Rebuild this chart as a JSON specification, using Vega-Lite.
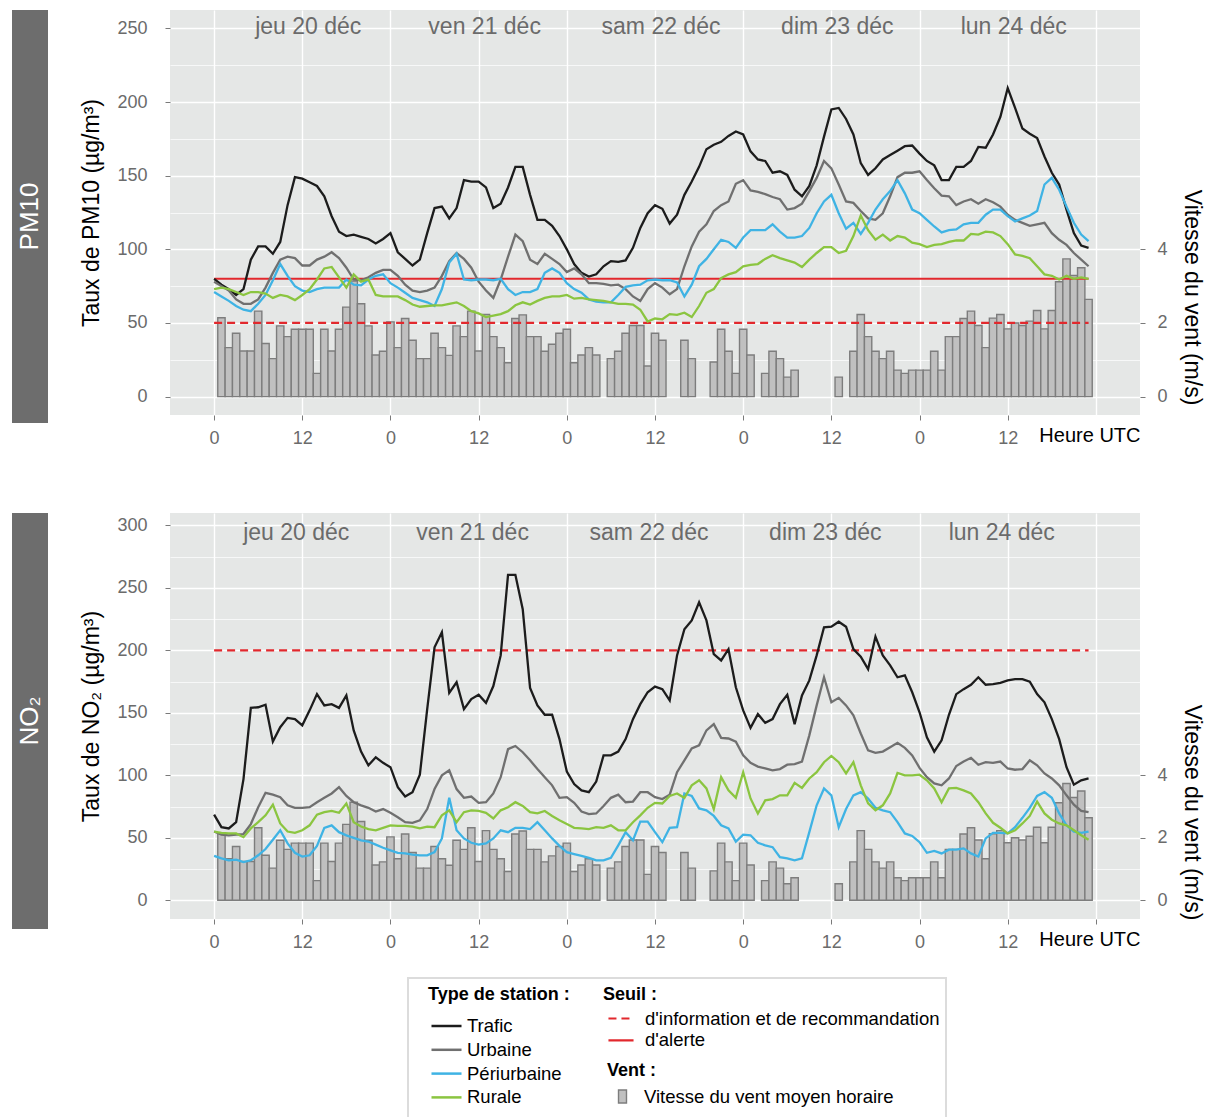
{
  "$schema": "https://vega.github.io/schema/vega-lite/v6.json",
  "padding": {"left": 12, "top": 10, "right": 5, "bottom": 5},
  "config": {
    "font": "Liberation Sans",
    "view": {"stroke": null},
    "scale": {"continuousPadding": 0},
    "axis": {"domain": false, "labelFont": "Liberation Sans", "titleFont": "Liberation Sans", "labelColor": "#6b6b6b", "labelFontSize": 18, "tickColor": "#7a7a7a", "tickSize": 5, "titleColor": "#000000", "titleFontWeight": "normal", "titleFontSize": 23, "labelOverlap": false, "labelFlush": false},
    "legend": {"labelFont": "Liberation Sans", "titleFont": "Liberation Sans", "labelFontSize": 18.5, "titleFontSize": 18, "titleFontWeight": "bold", "labelColor": "#000000", "titleColor": "#000000", "orient": "none", "padding": 0, "direction": "vertical", "labelLimit": 400, "symbolSize": 361}
  },
  "datasets": {
    "pm10": [
      {"h":0,"Trafic":80,"Urbaine":78,"Périurbaine":71,"Rurale":73},
      {"h":1,"Trafic":76,"Urbaine":75,"Périurbaine":68,"Rurale":74},
      {"h":2,"Trafic":73,"Urbaine":72,"Périurbaine":65,"Rurale":73},
      {"h":3,"Trafic":69,"Urbaine":66,"Périurbaine":61.5,"Rurale":71},
      {"h":4,"Trafic":73,"Urbaine":63,"Périurbaine":59,"Rurale":69},
      {"h":5,"Trafic":93,"Urbaine":63,"Périurbaine":58,"Rurale":71},
      {"h":6,"Trafic":102,"Urbaine":66,"Périurbaine":63,"Rurale":71},
      {"h":7,"Trafic":102,"Urbaine":74,"Périurbaine":69,"Rurale":70},
      {"h":8,"Trafic":97,"Urbaine":84,"Périurbaine":79,"Rurale":67},
      {"h":9,"Trafic":105,"Urbaine":93,"Périurbaine":90,"Rurale":69},
      {"h":10,"Trafic":130,"Urbaine":95,"Périurbaine":82,"Rurale":68},
      {"h":11,"Trafic":149,"Urbaine":94,"Périurbaine":75,"Rurale":65.5},
      {"h":12,"Trafic":148,"Urbaine":89,"Périurbaine":72,"Rurale":69},
      {"h":13,"Trafic":145.5,"Urbaine":89,"Périurbaine":71,"Rurale":73},
      {"h":14,"Trafic":143,"Urbaine":93,"Périurbaine":73,"Rurale":79.5},
      {"h":15,"Trafic":136,"Urbaine":95,"Périurbaine":74,"Rurale":87},
      {"h":16,"Trafic":122.5,"Urbaine":98,"Périurbaine":74,"Rurale":88},
      {"h":17,"Trafic":112,"Urbaine":94,"Périurbaine":74,"Rurale":81},
      {"h":18,"Trafic":109,"Urbaine":87.5,"Périurbaine":79.5,"Rurale":74},
      {"h":19,"Trafic":110,"Urbaine":79.5,"Périurbaine":76,"Rurale":83},
      {"h":20,"Trafic":108.5,"Urbaine":79,"Périurbaine":75.5,"Rurale":78},
      {"h":21,"Trafic":107,"Urbaine":81,"Périurbaine":79.5,"Rurale":79.5},
      {"h":22,"Trafic":104,"Urbaine":84,"Périurbaine":82,"Rurale":69},
      {"h":23,"Trafic":107,"Urbaine":86,"Périurbaine":83,"Rurale":68},
      {"h":24,"Trafic":111,"Urbaine":86,"Périurbaine":77,"Rurale":68},
      {"h":25,"Trafic":98,"Urbaine":82,"Périurbaine":74,"Rurale":68},
      {"h":26,"Trafic":93.5,"Urbaine":76,"Périurbaine":70.5,"Rurale":65.5},
      {"h":27,"Trafic":89,"Urbaine":72,"Périurbaine":67,"Rurale":62.5},
      {"h":28,"Trafic":93,"Urbaine":71,"Périurbaine":65.5,"Rurale":61},
      {"h":29,"Trafic":111,"Urbaine":72,"Périurbaine":64,"Rurale":61.5},
      {"h":30,"Trafic":128,"Urbaine":74,"Périurbaine":61.5,"Rurale":62},
      {"h":31,"Trafic":129,"Urbaine":82,"Périurbaine":73,"Rurale":62},
      {"h":32,"Trafic":121,"Urbaine":92,"Périurbaine":91,"Rurale":63},
      {"h":33,"Trafic":128,"Urbaine":97.5,"Périurbaine":97,"Rurale":64},
      {"h":34,"Trafic":147,"Urbaine":93.5,"Périurbaine":79.5,"Rurale":61.5},
      {"h":35,"Trafic":146,"Urbaine":87.5,"Périurbaine":79,"Rurale":58},
      {"h":36,"Trafic":146,"Urbaine":78,"Périurbaine":79.5,"Rurale":56.5},
      {"h":37,"Trafic":142,"Urbaine":72,"Périurbaine":79.5,"Rurale":54},
      {"h":38,"Trafic":128,"Urbaine":67,"Périurbaine":79,"Rurale":55},
      {"h":39,"Trafic":131,"Urbaine":79.5,"Périurbaine":80,"Rurale":56},
      {"h":40,"Trafic":142,"Urbaine":95,"Périurbaine":73,"Rurale":58},
      {"h":41,"Trafic":156,"Urbaine":110,"Périurbaine":69,"Rurale":62},
      {"h":42,"Trafic":156,"Urbaine":105.5,"Périurbaine":71,"Rurale":64},
      {"h":43,"Trafic":137,"Urbaine":93,"Périurbaine":71,"Rurale":62.5},
      {"h":44,"Trafic":120,"Urbaine":90,"Périurbaine":73,"Rurale":65},
      {"h":45,"Trafic":120,"Urbaine":97,"Périurbaine":84,"Rurale":67},
      {"h":46,"Trafic":116,"Urbaine":93.5,"Périurbaine":87,"Rurale":68},
      {"h":47,"Trafic":109,"Urbaine":90,"Périurbaine":84,"Rurale":68},
      {"h":48,"Trafic":100,"Urbaine":84.5,"Périurbaine":77,"Rurale":69},
      {"h":49,"Trafic":90,"Urbaine":87,"Périurbaine":73,"Rurale":66.5},
      {"h":50,"Trafic":84,"Urbaine":83,"Périurbaine":70.5,"Rurale":67},
      {"h":51,"Trafic":81.5,"Urbaine":77,"Périurbaine":66,"Rurale":66},
      {"h":52,"Trafic":83,"Urbaine":77,"Périurbaine":64.5,"Rurale":65.5},
      {"h":53,"Trafic":88.5,"Urbaine":76.5,"Périurbaine":64,"Rurale":65},
      {"h":54,"Trafic":92,"Urbaine":75.5,"Périurbaine":64,"Rurale":64},
      {"h":55,"Trafic":91.5,"Urbaine":76,"Périurbaine":69,"Rurale":63},
      {"h":56,"Trafic":92.5,"Urbaine":73,"Périurbaine":74.5,"Rurale":63},
      {"h":57,"Trafic":101,"Urbaine":68,"Périurbaine":75.5,"Rurale":62.5},
      {"h":58,"Trafic":114.5,"Urbaine":65,"Périurbaine":76,"Rurale":59},
      {"h":59,"Trafic":124.5,"Urbaine":73,"Périurbaine":79,"Rurale":51},
      {"h":60,"Trafic":130,"Urbaine":77,"Périurbaine":79.5,"Rurale":53},
      {"h":61,"Trafic":127.5,"Urbaine":74,"Périurbaine":79,"Rurale":52.5},
      {"h":62,"Trafic":117.5,"Urbaine":69.5,"Périurbaine":79,"Rurale":56},
      {"h":63,"Trafic":123.5,"Urbaine":73,"Périurbaine":77.5,"Rurale":55.5},
      {"h":64,"Trafic":137,"Urbaine":88.5,"Périurbaine":68,"Rurale":57},
      {"h":65,"Trafic":146,"Urbaine":102,"Périurbaine":76,"Rurale":54},
      {"h":66,"Trafic":156,"Urbaine":112,"Périurbaine":88.5,"Rurale":61.5},
      {"h":67,"Trafic":168,"Urbaine":117,"Périurbaine":93.5,"Rurale":70.5},
      {"h":68,"Trafic":171,"Urbaine":126,"Périurbaine":100,"Rurale":73},
      {"h":69,"Trafic":173,"Urbaine":130,"Périurbaine":106.5,"Rurale":80.5},
      {"h":70,"Trafic":177,"Urbaine":132.5,"Périurbaine":105,"Rurale":83},
      {"h":71,"Trafic":180,"Urbaine":144.5,"Périurbaine":101,"Rurale":84.5},
      {"h":72,"Trafic":178,"Urbaine":147,"Périurbaine":108,"Rurale":88.5},
      {"h":73,"Trafic":166.5,"Urbaine":140,"Périurbaine":113,"Rurale":89.5},
      {"h":74,"Trafic":161,"Urbaine":139,"Périurbaine":113,"Rurale":90},
      {"h":75,"Trafic":160,"Urbaine":137.5,"Périurbaine":113,"Rurale":93.5},
      {"h":76,"Trafic":152,"Urbaine":135.5,"Périurbaine":117,"Rurale":96},
      {"h":77,"Trafic":153,"Urbaine":134,"Périurbaine":112,"Rurale":94},
      {"h":78,"Trafic":150.5,"Urbaine":127,"Périurbaine":108,"Rurale":92.5},
      {"h":79,"Trafic":140.5,"Urbaine":128,"Périurbaine":108,"Rurale":91},
      {"h":80,"Trafic":136,"Urbaine":131,"Périurbaine":109,"Rurale":88},
      {"h":81,"Trafic":143,"Urbaine":139.5,"Périurbaine":114.5,"Rurale":93},
      {"h":82,"Trafic":157,"Urbaine":148.5,"Périurbaine":124.5,"Rurale":97.5},
      {"h":83,"Trafic":176.5,"Urbaine":160,"Périurbaine":132.5,"Rurale":101.5},
      {"h":84,"Trafic":195,"Urbaine":155,"Périurbaine":137,"Rurale":101.5},
      {"h":85,"Trafic":196,"Urbaine":144,"Périurbaine":124.5,"Rurale":97.5},
      {"h":86,"Trafic":188.5,"Urbaine":132.5,"Périurbaine":114,"Rurale":99},
      {"h":87,"Trafic":178,"Urbaine":131.5,"Périurbaine":118,"Rurale":109},
      {"h":88,"Trafic":158.5,"Urbaine":126,"Périurbaine":110.5,"Rurale":123},
      {"h":89,"Trafic":150.5,"Urbaine":121,"Périurbaine":118,"Rurale":113},
      {"h":90,"Trafic":155,"Urbaine":120,"Périurbaine":127,"Rurale":106.5},
      {"h":91,"Trafic":161,"Urbaine":124.5,"Périurbaine":134,"Rurale":110},
      {"h":92,"Trafic":164,"Urbaine":136,"Périurbaine":139.5,"Rurale":106},
      {"h":93,"Trafic":167,"Urbaine":149,"Périurbaine":147,"Rurale":109},
      {"h":94,"Trafic":170,"Urbaine":152,"Périurbaine":138,"Rurale":108},
      {"h":95,"Trafic":170.5,"Urbaine":152,"Périurbaine":127,"Rurale":104.5},
      {"h":96,"Trafic":165,"Urbaine":153,"Périurbaine":124.5,"Rurale":103.5},
      {"h":97,"Trafic":160,"Urbaine":147,"Périurbaine":120,"Rurale":101.5},
      {"h":98,"Trafic":157,"Urbaine":141.5,"Périurbaine":115.5,"Rurale":103},
      {"h":99,"Trafic":147,"Urbaine":136.5,"Périurbaine":111.5,"Rurale":103.5},
      {"h":100,"Trafic":147,"Urbaine":136,"Périurbaine":113,"Rurale":105},
      {"h":101,"Trafic":156,"Urbaine":130,"Périurbaine":113.5,"Rurale":106},
      {"h":102,"Trafic":156,"Urbaine":132.5,"Périurbaine":117,"Rurale":106},
      {"h":103,"Trafic":160,"Urbaine":134,"Périurbaine":118,"Rurale":110.5},
      {"h":104,"Trafic":169.5,"Urbaine":131,"Périurbaine":118,"Rurale":110},
      {"h":105,"Trafic":169,"Urbaine":134,"Périurbaine":123.5,"Rurale":112},
      {"h":106,"Trafic":178,"Urbaine":132,"Périurbaine":127,"Rurale":111.5},
      {"h":107,"Trafic":190,"Urbaine":129,"Périurbaine":127,"Rurale":109},
      {"h":108,"Trafic":209.5,"Urbaine":123.5,"Périurbaine":122.5,"Rurale":103.5},
      {"h":109,"Trafic":196,"Urbaine":120,"Périurbaine":119,"Rurale":96.5},
      {"h":110,"Trafic":182,"Urbaine":118,"Périurbaine":121,"Rurale":95.5},
      {"h":111,"Trafic":178.5,"Urbaine":116,"Périurbaine":123,"Rurale":94},
      {"h":112,"Trafic":175.5,"Urbaine":117,"Périurbaine":126,"Rurale":88.5},
      {"h":113,"Trafic":163,"Urbaine":118,"Périurbaine":144,"Rurale":83},
      {"h":114,"Trafic":152,"Urbaine":111,"Périurbaine":148.5,"Rurale":82},
      {"h":115,"Trafic":144,"Urbaine":106.5,"Périurbaine":140.5,"Rurale":79.5},
      {"h":116,"Trafic":127,"Urbaine":103,"Périurbaine":129,"Rurale":82},
      {"h":117,"Trafic":111,"Urbaine":97.5,"Périurbaine":118,"Rurale":80},
      {"h":118,"Trafic":102.5,"Urbaine":93,"Périurbaine":110,"Rurale":81},
      {"h":119,"Trafic":101,"Urbaine":88.5,"Périurbaine":105.5,"Rurale":80}
    ],
    "no2": [
      {"h":0,"Trafic":68.5,"Urbaine":55,"Périurbaine":35.5,"Rurale":55},
      {"h":1,"Trafic":58.5,"Urbaine":52.5,"Périurbaine":33.5,"Rurale":54},
      {"h":2,"Trafic":57.5,"Urbaine":52,"Périurbaine":32,"Rurale":53.5},
      {"h":3,"Trafic":62.5,"Urbaine":52.5,"Périurbaine":32.5,"Rurale":53.5},
      {"h":4,"Trafic":97,"Urbaine":53,"Périurbaine":30.5,"Rurale":50.5},
      {"h":5,"Trafic":154,"Urbaine":61,"Périurbaine":32,"Rurale":57.5},
      {"h":6,"Trafic":154.5,"Urbaine":74.5,"Périurbaine":36,"Rurale":62.5},
      {"h":7,"Trafic":156.5,"Urbaine":86,"Périurbaine":41,"Rurale":68},
      {"h":8,"Trafic":127,"Urbaine":84.5,"Périurbaine":48.5,"Rurale":76.5},
      {"h":9,"Trafic":138.5,"Urbaine":82.5,"Périurbaine":56,"Rurale":61.5},
      {"h":10,"Trafic":146,"Urbaine":76,"Périurbaine":45.5,"Rurale":55},
      {"h":11,"Trafic":145,"Urbaine":74,"Périurbaine":38,"Rurale":54},
      {"h":12,"Trafic":140,"Urbaine":74,"Périurbaine":35,"Rurale":56},
      {"h":13,"Trafic":152,"Urbaine":74.5,"Périurbaine":36,"Rurale":60},
      {"h":14,"Trafic":165,"Urbaine":78.5,"Périurbaine":43.5,"Rurale":68.5},
      {"h":15,"Trafic":156,"Urbaine":82,"Périurbaine":58,"Rurale":70.5},
      {"h":16,"Trafic":157,"Urbaine":85.5,"Périurbaine":60,"Rurale":71.5},
      {"h":17,"Trafic":154,"Urbaine":90.5,"Périurbaine":54.5,"Rurale":70},
      {"h":18,"Trafic":164,"Urbaine":83.5,"Périurbaine":52,"Rurale":77.5},
      {"h":19,"Trafic":136,"Urbaine":78.5,"Périurbaine":50,"Rurale":62.5},
      {"h":20,"Trafic":119,"Urbaine":76,"Périurbaine":48,"Rurale":59},
      {"h":21,"Trafic":108,"Urbaine":74,"Périurbaine":47,"Rurale":57},
      {"h":22,"Trafic":114.5,"Urbaine":71,"Périurbaine":44.5,"Rurale":56},
      {"h":23,"Trafic":110,"Urbaine":73,"Périurbaine":42,"Rurale":58},
      {"h":24,"Trafic":106.5,"Urbaine":70,"Périurbaine":40,"Rurale":60},
      {"h":25,"Trafic":90.5,"Urbaine":66.5,"Périurbaine":38,"Rurale":59.5},
      {"h":26,"Trafic":83,"Urbaine":62.5,"Périurbaine":37.5,"Rurale":59.5},
      {"h":27,"Trafic":86.5,"Urbaine":62,"Périurbaine":36.5,"Rurale":59},
      {"h":28,"Trafic":100.5,"Urbaine":64,"Périurbaine":36,"Rurale":57.5},
      {"h":29,"Trafic":153,"Urbaine":73,"Périurbaine":36,"Rurale":59},
      {"h":30,"Trafic":202.5,"Urbaine":89,"Périurbaine":38.5,"Rurale":58.5},
      {"h":31,"Trafic":214.5,"Urbaine":100,"Périurbaine":49.5,"Rurale":68},
      {"h":32,"Trafic":166,"Urbaine":104,"Périurbaine":82,"Rurale":72},
      {"h":33,"Trafic":174.5,"Urbaine":89,"Périurbaine":56,"Rurale":62.5},
      {"h":34,"Trafic":153,"Urbaine":82,"Périurbaine":49.5,"Rurale":70.5},
      {"h":35,"Trafic":161,"Urbaine":83,"Périurbaine":46,"Rurale":72},
      {"h":36,"Trafic":164.5,"Urbaine":78,"Périurbaine":44.5,"Rurale":71.5},
      {"h":37,"Trafic":158,"Urbaine":78.5,"Périurbaine":45.5,"Rurale":70},
      {"h":38,"Trafic":171.5,"Urbaine":85.5,"Périurbaine":49.5,"Rurale":65.5},
      {"h":39,"Trafic":196,"Urbaine":98.5,"Périurbaine":56,"Rurale":72},
      {"h":40,"Trafic":260.5,"Urbaine":121,"Périurbaine":54.5,"Rurale":74.5},
      {"h":41,"Trafic":260.5,"Urbaine":123.5,"Périurbaine":58,"Rurale":78.5},
      {"h":42,"Trafic":233,"Urbaine":118.5,"Périurbaine":58,"Rurale":75.5},
      {"h":43,"Trafic":170,"Urbaine":112,"Périurbaine":57,"Rurale":70.5},
      {"h":44,"Trafic":156,"Urbaine":105,"Périurbaine":62.5,"Rurale":69.5},
      {"h":45,"Trafic":148.5,"Urbaine":98.5,"Périurbaine":56,"Rurale":71.5},
      {"h":46,"Trafic":148.5,"Urbaine":92,"Périurbaine":49.5,"Rurale":67.5},
      {"h":47,"Trafic":129,"Urbaine":82,"Périurbaine":43.5,"Rurale":64},
      {"h":48,"Trafic":103,"Urbaine":82.5,"Périurbaine":38.5,"Rurale":61},
      {"h":49,"Trafic":93,"Urbaine":78,"Périurbaine":37,"Rurale":58},
      {"h":50,"Trafic":88,"Urbaine":71,"Périurbaine":35.5,"Rurale":57.5},
      {"h":51,"Trafic":86.5,"Urbaine":69,"Périurbaine":34,"Rurale":57},
      {"h":52,"Trafic":95,"Urbaine":69.5,"Périurbaine":32,"Rurale":58.5},
      {"h":53,"Trafic":116,"Urbaine":75.5,"Périurbaine":32,"Rurale":58},
      {"h":54,"Trafic":116,"Urbaine":82,"Périurbaine":34,"Rurale":60},
      {"h":55,"Trafic":119,"Urbaine":84.5,"Périurbaine":44,"Rurale":56},
      {"h":56,"Trafic":129,"Urbaine":78.5,"Périurbaine":54.5,"Rurale":56},
      {"h":57,"Trafic":145,"Urbaine":79,"Périurbaine":48,"Rurale":62.5},
      {"h":58,"Trafic":157,"Urbaine":86.5,"Périurbaine":63,"Rurale":68},
      {"h":59,"Trafic":166.5,"Urbaine":86.5,"Périurbaine":63,"Rurale":74},
      {"h":60,"Trafic":171,"Urbaine":82.5,"Périurbaine":54.5,"Rurale":78},
      {"h":61,"Trafic":169,"Urbaine":81,"Périurbaine":46.5,"Rurale":77.5},
      {"h":62,"Trafic":160,"Urbaine":84.5,"Périurbaine":58,"Rurale":83.5},
      {"h":63,"Trafic":196,"Urbaine":102.5,"Périurbaine":58.5,"Rurale":85.5},
      {"h":64,"Trafic":217,"Urbaine":112,"Périurbaine":85.5,"Rurale":82},
      {"h":65,"Trafic":224,"Urbaine":121.5,"Périurbaine":83.5,"Rurale":92},
      {"h":66,"Trafic":238.5,"Urbaine":124,"Périurbaine":73.5,"Rurale":96},
      {"h":67,"Trafic":224,"Urbaine":136,"Périurbaine":72,"Rurale":89.5},
      {"h":68,"Trafic":197,"Urbaine":141,"Périurbaine":67.5,"Rurale":73},
      {"h":69,"Trafic":192,"Urbaine":130,"Périurbaine":60,"Rurale":98.5},
      {"h":70,"Trafic":201,"Urbaine":129.5,"Périurbaine":57.5,"Rurale":88},
      {"h":71,"Trafic":170.5,"Urbaine":127,"Périurbaine":47,"Rurale":82},
      {"h":72,"Trafic":152,"Urbaine":116,"Périurbaine":52.5,"Rurale":102.5},
      {"h":73,"Trafic":138,"Urbaine":110,"Périurbaine":52,"Rurale":81.5},
      {"h":74,"Trafic":149,"Urbaine":107,"Périurbaine":46,"Rurale":69.5},
      {"h":75,"Trafic":142,"Urbaine":105.5,"Périurbaine":44,"Rurale":80},
      {"h":76,"Trafic":145,"Urbaine":104,"Périurbaine":42.5,"Rurale":81},
      {"h":77,"Trafic":157,"Urbaine":105,"Périurbaine":34.5,"Rurale":84},
      {"h":78,"Trafic":164.5,"Urbaine":108.5,"Périurbaine":33.5,"Rurale":84},
      {"h":79,"Trafic":141,"Urbaine":109,"Périurbaine":32,"Rurale":94},
      {"h":80,"Trafic":164,"Urbaine":111,"Périurbaine":33.5,"Rurale":90},
      {"h":81,"Trafic":176,"Urbaine":132,"Périurbaine":54.5,"Rurale":97.5},
      {"h":82,"Trafic":196,"Urbaine":156,"Périurbaine":76,"Rurale":102.5},
      {"h":83,"Trafic":218.5,"Urbaine":178.5,"Périurbaine":89.5,"Rurale":110.5},
      {"h":84,"Trafic":219,"Urbaine":158.5,"Périurbaine":84,"Rurale":115.5},
      {"h":85,"Trafic":223,"Urbaine":162,"Périurbaine":58.5,"Rurale":110.5},
      {"h":86,"Trafic":219,"Urbaine":156,"Périurbaine":73,"Rurale":101.5},
      {"h":87,"Trafic":201,"Urbaine":148,"Périurbaine":84,"Rurale":110.5},
      {"h":88,"Trafic":195,"Urbaine":133.5,"Périurbaine":86.5,"Rurale":92},
      {"h":89,"Trafic":185,"Urbaine":120,"Périurbaine":81.5,"Rurale":77.5},
      {"h":90,"Trafic":211,"Urbaine":118,"Périurbaine":74,"Rurale":72},
      {"h":91,"Trafic":196,"Urbaine":119,"Périurbaine":72,"Rurale":76},
      {"h":92,"Trafic":188,"Urbaine":122.5,"Périurbaine":70.5,"Rurale":85.5},
      {"h":93,"Trafic":178.5,"Urbaine":126,"Périurbaine":62.5,"Rurale":102},
      {"h":94,"Trafic":180,"Urbaine":122,"Périurbaine":53.5,"Rurale":100},
      {"h":95,"Trafic":166.5,"Urbaine":116,"Périurbaine":51.5,"Rurale":100},
      {"h":96,"Trafic":150.5,"Urbaine":106,"Périurbaine":46.5,"Rurale":100.5},
      {"h":97,"Trafic":130.5,"Urbaine":98.5,"Périurbaine":38,"Rurale":96},
      {"h":98,"Trafic":119,"Urbaine":93.5,"Périurbaine":39.5,"Rurale":89.5},
      {"h":99,"Trafic":128,"Urbaine":92,"Périurbaine":37.5,"Rurale":78.5},
      {"h":100,"Trafic":148.5,"Urbaine":97.5,"Périurbaine":40.5,"Rurale":89.5},
      {"h":101,"Trafic":165,"Urbaine":107.5,"Périurbaine":40.5,"Rurale":90},
      {"h":102,"Trafic":169,"Urbaine":111,"Périurbaine":41.5,"Rurale":88},
      {"h":103,"Trafic":172.5,"Urbaine":114,"Périurbaine":37.5,"Rurale":85.5},
      {"h":104,"Trafic":178.5,"Urbaine":108.5,"Périurbaine":35,"Rurale":78.5},
      {"h":105,"Trafic":172.5,"Urbaine":110.5,"Périurbaine":49.5,"Rurale":69.5},
      {"h":106,"Trafic":173,"Urbaine":110,"Périurbaine":54,"Rurale":62},
      {"h":107,"Trafic":174,"Urbaine":111,"Périurbaine":54,"Rurale":58},
      {"h":108,"Trafic":176,"Urbaine":105.5,"Périurbaine":53.5,"Rurale":53.5},
      {"h":109,"Trafic":177,"Urbaine":104.5,"Périurbaine":58.5,"Rurale":56},
      {"h":110,"Trafic":177,"Urbaine":105,"Périurbaine":66,"Rurale":61.5},
      {"h":111,"Trafic":175,"Urbaine":112,"Périurbaine":74,"Rurale":67.5},
      {"h":112,"Trafic":165,"Urbaine":108,"Périurbaine":83.5,"Rurale":79},
      {"h":113,"Trafic":158.5,"Urbaine":101.5,"Périurbaine":86.5,"Rurale":69.5},
      {"h":114,"Trafic":145,"Urbaine":97.5,"Périurbaine":82,"Rurale":64.5},
      {"h":115,"Trafic":129,"Urbaine":92,"Périurbaine":69.5,"Rurale":61.5},
      {"h":116,"Trafic":106.5,"Urbaine":84,"Périurbaine":60,"Rurale":60},
      {"h":117,"Trafic":92.5,"Urbaine":76.5,"Périurbaine":55,"Rurale":56},
      {"h":118,"Trafic":96,"Urbaine":71.5,"Périurbaine":54,"Rurale":52},
      {"h":119,"Trafic":97.5,"Urbaine":70.5,"Périurbaine":55,"Rurale":48.5}
    ],
    "vent": [
      {"h":1,"vent":2.14},{"h":2,"vent":1.33},{"h":3,"vent":1.72},{"h":4,"vent":1.24},{"h":5,"vent":1.24},
      {"h":6,"vent":2.32},{"h":7,"vent":1.44},{"h":8,"vent":1.03},{"h":9,"vent":1.92},{"h":10,"vent":1.63},
      {"h":11,"vent":1.83},{"h":12,"vent":1.83},{"h":13,"vent":1.83},{"h":14,"vent":0.63},{"h":15,"vent":1.83},
      {"h":16,"vent":1.24},{"h":17,"vent":1.83},{"h":18,"vent":2.43},{"h":19,"vent":3.14},{"h":20,"vent":2.52},
      {"h":21,"vent":1.92},{"h":22,"vent":1.13},{"h":23,"vent":1.23},{"h":24,"vent":2.03},{"h":25,"vent":1.33},
      {"h":26,"vent":2.12},{"h":27,"vent":1.53},{"h":28,"vent":1.03},{"h":29,"vent":1.03},{"h":30,"vent":1.72},
      {"h":31,"vent":1.33},{"h":32,"vent":1.12},{"h":33,"vent":1.92},{"h":34,"vent":1.63},{"h":35,"vent":2.32},
      {"h":36,"vent":1.24},{"h":37,"vent":2.23},{"h":38,"vent":1.63},{"h":39,"vent":1.33},{"h":40,"vent":0.92},
      {"h":41,"vent":2.12},{"h":42,"vent":2.22},{"h":43,"vent":1.63},{"h":44,"vent":1.63},{"h":45,"vent":1.23},
      {"h":46,"vent":1.42},{"h":47,"vent":1.72},{"h":48,"vent":1.83},{"h":49,"vent":0.92},{"h":50,"vent":1.13},
      {"h":51,"vent":1.33},{"h":52,"vent":1.13},{"h":53,"vent":0},{"h":54,"vent":1.03},{"h":55,"vent":1.23},
      {"h":56,"vent":1.72},{"h":57,"vent":1.93},{"h":58,"vent":1.93},{"h":59,"vent":0.83},{"h":60,"vent":1.72},
      {"h":61,"vent":1.53},{"h":62,"vent":0},{"h":63,"vent":0},{"h":64,"vent":1.53},{"h":65,"vent":1.03},
      {"h":66,"vent":0},{"h":67,"vent":0},{"h":68,"vent":0.94},{"h":69,"vent":1.83},{"h":70,"vent":1.23},
      {"h":71,"vent":0.63},{"h":72,"vent":1.83},{"h":73,"vent":1.13},{"h":74,"vent":0},{"h":75,"vent":0.63},
      {"h":76,"vent":1.23},{"h":77,"vent":1.03},{"h":78,"vent":0.53},{"h":79,"vent":0.72},{"h":80,"vent":0},
      {"h":81,"vent":0},{"h":82,"vent":0},{"h":83,"vent":0},{"h":84,"vent":0},{"h":85,"vent":0.53},
      {"h":86,"vent":0},{"h":87,"vent":1.23},{"h":88,"vent":2.23},{"h":89,"vent":1.63},{"h":90,"vent":1.23},
      {"h":91,"vent":1.03},{"h":92,"vent":1.23},{"h":93,"vent":0.72},{"h":94,"vent":0.63},{"h":95,"vent":0.72},
      {"h":96,"vent":0.72},{"h":97,"vent":0.72},{"h":98,"vent":1.23},{"h":99,"vent":0.72},{"h":100,"vent":1.63},
      {"h":101,"vent":1.63},{"h":102,"vent":2.12},{"h":103,"vent":2.32},{"h":104,"vent":1.93},{"h":105,"vent":1.33},
      {"h":106,"vent":2.13},{"h":107,"vent":2.23},{"h":108,"vent":1.84},{"h":109,"vent":2.0},{"h":110,"vent":1.93},
      {"h":111,"vent":2.05},{"h":112,"vent":2.34},{"h":113,"vent":1.84},{"h":114,"vent":2.34},{"h":115,"vent":3.12},
      {"h":116,"vent":3.74},{"h":117,"vent":3.29},{"h":118,"vent":3.5},{"h":119,"vent":2.64}
    ],
    "seuils": [
      {"polluant":"PM10","seuil":"d'information et de recommandation","valeur":50,"debut":0,"fin":119},
      {"polluant":"PM10","seuil":"d'alerte","valeur":80,"debut":0,"fin":119},
      {"polluant":"NO2","seuil":"d'information et de recommandation","valeur":200,"debut":0,"fin":119}
    ],
    "jours": [
      {"h":12,"jour":"jeu 20 déc"},
      {"h":36,"jour":"ven 21 déc"},
      {"h":60,"jour":"sam 22 déc"},
      {"h":84,"jour":"dim 23 déc"},
      {"h":108,"jour":"lun 24 déc"}
    ]
  },
  "vconcat": [
    {
      "spacing": 66,
      "vconcat": [
        {
          "bounds": "flush",
          "spacing": 122,
          "hconcat": [
            {
              "width": 36, "height": 413,
              "view": {"fill": "#6d6d6d", "stroke": null},
              "data": {"values": [{"p": "PM10"}]},
              "mark": {"type": "text", "angle": 270, "color": "#ffffff", "fontSize": 26},
              "encoding": {"text": {"field": "p"}}
            },
            {
              "width": 970, "height": 405,
              "view": {"fill": "#e5e7e6", "stroke": null},
              "layer": [
                {
                  "data": {"name": "vent"},
                  "transform": [{"filter": "datum.vent > 0"}],
                  "mark": {"type": "bar", "width": 7.35, "stroke": "#7d7d7d", "strokeWidth": 1.4},
                  "encoding": {
                    "x": {"field": "h", "type": "quantitative", "scale": {"domain": [-6, 126], "nice": false, "zero": false, "padding": 0},
                      "axis": {"values": [0,12,24,36,48,60,72,84,96,108,120], "labelExpr": "datum.value >= 120 ? '' : (datum.value % 24 == 0 ? '0' : '12')", "title": "Heure UTC", "titleAnchor": "end", "titleAlign": "right", "titleBaseline": "alphabetic", "titleY": 26, "titleFontSize": 20, "grid": true, "gridColor": "#ffffff", "gridWidth": 1.4, "tickColor": {"condition": {"test": "datum.value >= 120", "value": "transparent"}, "value": "#7a7a7a"}, "labelPadding": 9}},
                    "y": {"field": "vent", "type": "quantitative", "scale": {"domain": [-0.5, 10.5], "nice": false, "zero": false, "padding": 0},
                      "axis": {"orient": "right", "values": [0, 2, 4], "grid": false, "title": "Vitesse du vent (m/s)", "titleY": 287, "labelPadding": 12, "titlePadding": 12}},
                    "y2": {"datum": 0},
                    "fill": {"datum": "Vitesse du vent moyen horaire", "type": "nominal", "scale": {"range": ["#c0c0c0"]},
                      "legend": {"title": "Vent :", "legendX": 595, "legendY": 1052, "symbolType": "M-0.42,-0.68H0.42V0.68H-0.42Z", "symbolStrokeColor": "#7d7d7d", "symbolStrokeWidth": 1.4, "symbolOffset": 5, "labelOffset": 11, "titlePadding": 6}}
                  }
                },
                {
                  "layer": [
                    {
                      "data": {"name": "seuils"},
                      "transform": [{"filter": "datum.polluant == 'PM10'"}],
                      "mark": {"type": "rule", "color": "#e2282d", "strokeWidth": 2.2},
                      "encoding": {
                        "x": {"field": "debut", "type": "quantitative",
                          "axis": {"values": [0,12,24,36,48,60,72,84,96,108,120], "labelExpr": "datum.value >= 120 ? '' : (datum.value % 24 == 0 ? '0' : '12')", "title": "Heure UTC", "titleAnchor": "end", "titleAlign": "right", "titleBaseline": "alphabetic", "titleY": 26, "titleFontSize": 20, "grid": true, "gridColor": "#ffffff", "gridWidth": 1.4, "tickColor": {"condition": {"test": "datum.value >= 120", "value": "transparent"}, "value": "#7a7a7a"}, "labelPadding": 9}},
                        "x2": {"field": "fin"},
                        "y": {"field": "valeur", "type": "quantitative", "scale": {"domain": [-12.5, 262.5], "nice": false, "zero": false, "padding": 0},
                          "axis": {"values": [0,25,50,75,100,125,150,175,200,225,250], "labelExpr": "datum.value % 50 == 0 ? datum.label : ''", "tickColor": {"condition": {"test": "datum.value % 50 != 0", "value": "transparent"}, "value": "#7a7a7a"}, "grid": true, "gridColor": "#ffffff", "gridWidth": {"condition": {"test": "datum.value % 50 == 0", "value": 1.4}, "value": 0.7}, "title": "Taux de PM10 (µg/m³)", "labelPadding": 18, "titlePadding": 13}},
                        "strokeDash": {"field": "seuil", "type": "nominal", "scale": {"domain": ["d'information et de recommandation", "d'alerte"], "range": [[8, 5], [1, 0]]},
                          "legend": {"title": "Seuil :", "legendX": 591, "legendY": 976, "symbolType": "M-1.32,0H1.32", "symbolStrokeColor": "#e2282d", "symbolStrokeWidth": 2.2, "symbolOffset": 7, "labelOffset": 13, "titlePadding": 3.5, "rowPadding": 0.8}}
                      }
                    },
                    {
                      "data": {"name": "pm10"},
                      "transform": [{"fold": ["Trafic", "Urbaine", "Périurbaine", "Rurale"], "as": ["station", "valeur"]}],
                      "mark": {"type": "line", "strokeWidth": 2.3},
                      "encoding": {
                        "x": {"field": "h", "type": "quantitative",
                          "axis": {"values": [0,12,24,36,48,60,72,84,96,108,120], "labelExpr": "datum.value >= 120 ? '' : (datum.value % 24 == 0 ? '0' : '12')", "title": "Heure UTC", "titleAnchor": "end", "titleAlign": "right", "titleBaseline": "alphabetic", "titleY": 26, "titleFontSize": 20, "grid": true, "gridColor": "#ffffff", "gridWidth": 1.4, "tickColor": {"condition": {"test": "datum.value >= 120", "value": "transparent"}, "value": "#7a7a7a"}, "labelPadding": 9}},
                        "y": {"field": "valeur", "type": "quantitative",
                          "axis": {"values": [0,25,50,75,100,125,150,175,200,225,250], "labelExpr": "datum.value % 50 == 0 ? datum.label : ''", "tickColor": {"condition": {"test": "datum.value % 50 != 0", "value": "transparent"}, "value": "#7a7a7a"}, "grid": true, "gridColor": "#ffffff", "gridWidth": {"condition": {"test": "datum.value % 50 == 0", "value": 1.4}, "value": 0.7}, "title": "Taux de PM10 (µg/m³)", "labelPadding": 18, "titlePadding": 13}},
                        "color": {"field": "station", "type": "nominal", "scale": {"domain": ["Trafic", "Urbaine", "Périurbaine", "Rurale"], "range": ["#1c1c1c", "#707070", "#3fb3e4", "#8bc540"]},
                          "legend": {"title": "Type de station :", "legendX": 416, "legendY": 976, "symbolType": "M-1.58,0H1.58", "symbolStrokeWidth": 2.5, "symbolOffset": 7.5, "labelOffset": 9.5, "titlePadding": 11, "rowPadding": 2.8}}
                      }
                    },
                    {
                      "data": {"name": "jours"},
                      "mark": {"type": "text", "fontSize": 23, "color": "#6b6b6b", "dx": 6},
                      "encoding": {
                        "x": {"field": "h", "type": "quantitative",
                          "axis": {"values": [0,12,24,36,48,60,72,84,96,108,120], "labelExpr": "datum.value >= 120 ? '' : (datum.value % 24 == 0 ? '0' : '12')", "title": "Heure UTC", "titleAnchor": "end", "titleAlign": "right", "titleBaseline": "alphabetic", "titleY": 26, "titleFontSize": 20, "grid": true, "gridColor": "#ffffff", "gridWidth": 1.4, "tickColor": {"condition": {"test": "datum.value >= 120", "value": "transparent"}, "value": "#7a7a7a"}, "labelPadding": 9}},
                        "y": {"datum": 251, "type": "quantitative",
                          "axis": {"values": [0,25,50,75,100,125,150,175,200,225,250], "labelExpr": "datum.value % 50 == 0 ? datum.label : ''", "tickColor": {"condition": {"test": "datum.value % 50 != 0", "value": "transparent"}, "value": "#7a7a7a"}, "grid": true, "gridColor": "#ffffff", "gridWidth": {"condition": {"test": "datum.value % 50 == 0", "value": 1.4}, "value": 0.7}, "title": "Taux de PM10 (µg/m³)", "labelPadding": 18, "titlePadding": 13}},
                        "text": {"field": "jour"}
                      }
                    }
                  ]
                }
              ],
              "resolve": {"scale": {"y": "independent"}}
            }
          ]
        },
        {
          "bounds": "flush",
          "spacing": 122,
          "hconcat": [
            {
              "width": 36, "height": 416,
              "view": {"fill": "#6d6d6d", "stroke": null},
              "data": {"values": [{"p": "NO₂"}]},
              "mark": {"type": "text", "angle": 270, "color": "#ffffff", "fontSize": 26},
              "encoding": {"text": {"field": "p"}}
            },
            {
              "width": 970, "height": 406,
              "view": {"fill": "#e5e7e6", "stroke": null},
              "layer": [
                {
                  "data": {"name": "vent"},
                  "transform": [{"filter": "datum.vent > 0"}],
                  "mark": {"type": "bar", "width": 7.35, "stroke": "#7d7d7d", "strokeWidth": 1.4},
                  "encoding": {
                    "x": {"field": "h", "type": "quantitative", "scale": {"domain": [-6, 126], "nice": false, "zero": false, "padding": 0},
                      "axis": {"values": [0,12,24,36,48,60,72,84,96,108,120], "labelExpr": "datum.value >= 120 ? '' : (datum.value % 24 == 0 ? '0' : '12')", "title": "Heure UTC", "titleAnchor": "end", "titleAlign": "right", "titleBaseline": "alphabetic", "titleY": 26, "titleFontSize": 20, "grid": true, "gridColor": "#ffffff", "gridWidth": 1.4, "tickColor": "#7a7a7a", "labelPadding": 9}},
                    "y": {"field": "vent", "type": "quantitative", "scale": {"domain": [-0.6, 12.4], "nice": false, "zero": false, "padding": 0},
                      "axis": {"orient": "right", "values": [0, 2, 4], "grid": false, "title": "Vitesse du vent (m/s)", "titleY": 299, "labelPadding": 12, "titlePadding": 12}},
                    "y2": {"datum": 0},
                    "fill": {"datum": "Vitesse du vent moyen horaire", "type": "nominal", "scale": {"range": ["#c0c0c0"]},
                      "legend": {"title": "Vent :", "legendX": 595, "legendY": 1052, "symbolType": "M-0.42,-0.68H0.42V0.68H-0.42Z", "symbolStrokeColor": "#7d7d7d", "symbolStrokeWidth": 1.4, "symbolOffset": 5, "labelOffset": 11, "titlePadding": 6}}
                  }
                },
                {
                  "layer": [
                    {
                      "data": {"name": "seuils"},
                      "transform": [{"filter": "datum.polluant == 'NO2'"}],
                      "mark": {"type": "rule", "color": "#e2282d", "strokeWidth": 2.2},
                      "encoding": {
                        "x": {"field": "debut", "type": "quantitative",
                          "axis": {"values": [0,12,24,36,48,60,72,84,96,108,120], "labelExpr": "datum.value >= 120 ? '' : (datum.value % 24 == 0 ? '0' : '12')", "title": "Heure UTC", "titleAnchor": "end", "titleAlign": "right", "titleBaseline": "alphabetic", "titleY": 26, "titleFontSize": 20, "grid": true, "gridColor": "#ffffff", "gridWidth": 1.4, "tickColor": "#7a7a7a", "labelPadding": 9}},
                        "x2": {"field": "fin"},
                        "y": {"field": "valeur", "type": "quantitative", "scale": {"domain": [-15, 310], "nice": false, "zero": false, "padding": 0},
                          "axis": {"values": [0,25,50,75,100,125,150,175,200,225,250,275,300], "labelExpr": "datum.value % 50 == 0 ? datum.label : ''", "tickColor": {"condition": {"test": "datum.value % 50 != 0", "value": "transparent"}, "value": "#7a7a7a"}, "grid": true, "gridColor": "#ffffff", "gridWidth": {"condition": {"test": "datum.value % 50 == 0", "value": 1.4}, "value": 0.7}, "title": "Taux de NO₂ (µg/m³)", "labelPadding": 18, "titlePadding": 13}},
                        "strokeDash": {"field": "seuil", "type": "nominal", "scale": {"domain": ["d'information et de recommandation", "d'alerte"], "range": [[8, 5], [1, 0]]},
                          "legend": {"title": "Seuil :", "legendX": 591, "legendY": 976, "symbolType": "M-1.32,0H1.32", "symbolStrokeColor": "#e2282d", "symbolStrokeWidth": 2.2, "symbolOffset": 7, "labelOffset": 13, "titlePadding": 3.5, "rowPadding": 0.8}}
                      }
                    },
                    {
                      "data": {"name": "no2"},
                      "transform": [{"fold": ["Trafic", "Urbaine", "Périurbaine", "Rurale"], "as": ["station", "valeur"]}],
                      "mark": {"type": "line", "strokeWidth": 2.3},
                      "encoding": {
                        "x": {"field": "h", "type": "quantitative",
                          "axis": {"values": [0,12,24,36,48,60,72,84,96,108,120], "labelExpr": "datum.value >= 120 ? '' : (datum.value % 24 == 0 ? '0' : '12')", "title": "Heure UTC", "titleAnchor": "end", "titleAlign": "right", "titleBaseline": "alphabetic", "titleY": 26, "titleFontSize": 20, "grid": true, "gridColor": "#ffffff", "gridWidth": 1.4, "tickColor": "#7a7a7a", "labelPadding": 9}},
                        "y": {"field": "valeur", "type": "quantitative",
                          "axis": {"values": [0,25,50,75,100,125,150,175,200,225,250,275,300], "labelExpr": "datum.value % 50 == 0 ? datum.label : ''", "tickColor": {"condition": {"test": "datum.value % 50 != 0", "value": "transparent"}, "value": "#7a7a7a"}, "grid": true, "gridColor": "#ffffff", "gridWidth": {"condition": {"test": "datum.value % 50 == 0", "value": 1.4}, "value": 0.7}, "title": "Taux de NO₂ (µg/m³)", "labelPadding": 18, "titlePadding": 13}},
                        "color": {"field": "station", "type": "nominal", "scale": {"domain": ["Trafic", "Urbaine", "Périurbaine", "Rurale"], "range": ["#1c1c1c", "#707070", "#3fb3e4", "#8bc540"]},
                          "legend": {"title": "Type de station :", "legendX": 416, "legendY": 976, "symbolType": "M-1.58,0H1.58", "symbolStrokeWidth": 2.5, "symbolOffset": 7.5, "labelOffset": 9.5, "titlePadding": 11, "rowPadding": 2.8}}
                      }
                    },
                    {
                      "data": {"name": "jours"},
                      "mark": {"type": "text", "fontSize": 23, "color": "#6b6b6b", "dx": -6},
                      "encoding": {
                        "x": {"field": "h", "type": "quantitative",
                          "axis": {"values": [0,12,24,36,48,60,72,84,96,108,120], "labelExpr": "datum.value >= 120 ? '' : (datum.value % 24 == 0 ? '0' : '12')", "title": "Heure UTC", "titleAnchor": "end", "titleAlign": "right", "titleBaseline": "alphabetic", "titleY": 26, "titleFontSize": 20, "grid": true, "gridColor": "#ffffff", "gridWidth": 1.4, "tickColor": "#7a7a7a", "labelPadding": 9}},
                        "y": {"datum": 294, "type": "quantitative",
                          "axis": {"values": [0,25,50,75,100,125,150,175,200,225,250,275,300], "labelExpr": "datum.value % 50 == 0 ? datum.label : ''", "tickColor": {"condition": {"test": "datum.value % 50 != 0", "value": "transparent"}, "value": "#7a7a7a"}, "grid": true, "gridColor": "#ffffff", "gridWidth": {"condition": {"test": "datum.value % 50 == 0", "value": 1.4}, "value": 0.7}, "title": "Taux de NO₂ (µg/m³)", "labelPadding": 18, "titlePadding": 13}},
                        "text": {"field": "jour"}
                      }
                    }
                  ]
                }
              ],
              "resolve": {"scale": {"y": "independent"}}
            }
          ]
        }
      ]
    },
    {
      "bounds": "flush",
      "spacing": 0,
      "hconcat": [
        {"width": 396, "height": 140, "data": {"values": []}, "mark": "text", "encoding": {}},
        {"width": 538, "height": 142, "view": {"stroke": "#dcdcdc", "strokeWidth": 2, "fill": "#ffffff"}, "data": {"values": []}, "mark": "text", "encoding": {}}
      ]
    }
  ],
  "spacing": 26
}
